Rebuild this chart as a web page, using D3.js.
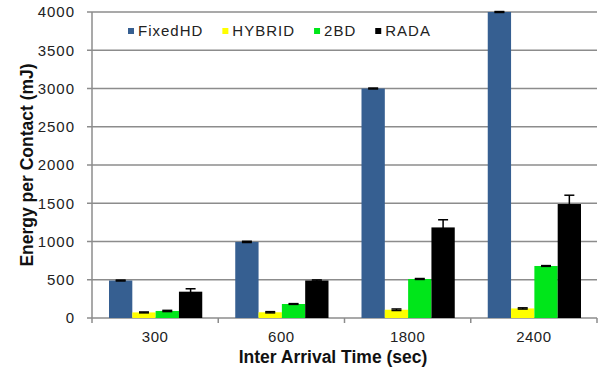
<!DOCTYPE html>
<html>
<head>
<meta charset="utf-8">
<script src="https://cdn.jsdelivr.net/npm/d3@7"></script>
<style>
  body { margin: 0; background: #fff; }
  svg { display: block; font-family: "Liberation Sans", Arial, sans-serif; }
</style>
</head>
<body>
<svg id="chart" width="600" height="371"></svg>
<script>
// data
var categories = ["300", "600", "1800", "2400"];
var seriesNames = ["FixedHD", "HYBRID", "2BD", "RADA"];
var seriesColors = ["#365f91", "#ffff00", "#00e61a", "#000000"];
var fixedHD = [490, 995, 3000, 4000];
var hybrid = [73, 75, 108, 125];
var twoBD = [92, 183, 510, 680];
var rada = [344, 490, 1184, 1490];
var fixedHDErr = [6, 8, 6, 6];
var hybridErr = [6, 8, 10, 8];
var twoBDErr = [8, 5, 6, 5];
var radaErr = [38, 8, 100, 115];
var yTicks = [0, 500, 1000, 1500, 2000, 2500, 3000, 3500, 4000];

var values = [fixedHD, hybrid, twoBD, rada];
var errors = [fixedHDErr, hybridErr, twoBDErr, radaErr];

var svg = d3.select("#chart");
var plotLeft = 92, plotRight = 597, plotTop = 12, plotBottom = 318;

var x0 = d3.scaleBand().domain(categories).range([plotLeft, plotRight]).padding(0);
var x1 = d3.scaleBand().domain(seriesNames).range([17, x0.bandwidth() - 16]).padding(0);
var y = d3.scaleLinear().domain([0, 4000]).range([plotBottom, plotTop]);

// grid lines
svg.append("g").selectAll("line")
    .data(yTicks)
    .enter().append("line")
    .attr("x1", plotLeft - 5).attr("x2", plotRight)
    .attr("y1", function(d) { return y(d); })
    .attr("y2", function(d) { return y(d); })
    .attr("stroke", "#8c8c8c")
    .attr("stroke-width", 1.5);

// y tick labels
svg.append("g").selectAll("text")
    .data(yTicks)
    .enter().append("text")
    .attr("x", 75).attr("y", function(d) { return y(d); })
    .attr("dy", "0.36em")
    .attr("text-anchor", "end")
    .attr("font-size", 15)
    .attr("letter-spacing", 1)
    .attr("fill", "#222")
    .text(function(d) { return d; });

// y axis line
svg.append("line")
    .attr("x1", plotLeft).attr("x2", plotLeft)
    .attr("y1", plotTop).attr("y2", plotBottom + 5)
    .attr("stroke", "#8c8c8c").attr("stroke-width", 1.5);

// x axis ticks at category boundaries
var bounds = categories.map(function(c) { return x0(c); }).concat([plotRight]);
svg.append("g").selectAll("line")
    .data(bounds.slice(1))
    .enter().append("line")
    .attr("x1", function(d) { return d; }).attr("x2", function(d) { return d; })
    .attr("y1", plotBottom).attr("y2", plotBottom + 5)
    .attr("stroke", "#8c8c8c").attr("stroke-width", 1.5);

// bars
var groups = svg.append("g").selectAll("g")
    .data(categories)
    .enter().append("g")
    .attr("transform", function(c) { return "translate(" + x0(c) + ",0)"; });

function rowsFor(c, ci) {
    return seriesNames.map(function(s, si) {
        return { s: s, si: si, v: values[si][ci], e: errors[si][ci] };
    });
}

groups.selectAll("rect")
    .data(rowsFor)
    .enter().append("rect")
    .attr("x", function(d) { return x1(d.s); })
    .attr("y", function(d) { return y(d.v); })
    .attr("width", x1.bandwidth())
    .attr("height", function(d) { return plotBottom - y(d.v); })
    .attr("fill", function(d) { return seriesColors[d.si]; });

// error bars
var err = groups.selectAll("g.err")
    .data(rowsFor)
    .enter().append("g").attr("class", "err");

err.append("line")
    .attr("x1", function(d) { return x1(d.s) + x1.bandwidth() / 2; })
    .attr("x2", function(d) { return x1(d.s) + x1.bandwidth() / 2; })
    .attr("y1", function(d) { return y(d.v - d.e); })
    .attr("y2", function(d) { return y(d.v + d.e); })
    .attr("stroke", "#000").attr("stroke-width", 1.5);

[1, -1].forEach(function(sign) {
    err.append("line")
        .attr("x1", function(d) { return x1(d.s) + x1.bandwidth() / 2 - 5; })
        .attr("x2", function(d) { return x1(d.s) + x1.bandwidth() / 2 + 5; })
        .attr("y1", function(d) { return y(d.v + sign * d.e); })
        .attr("y2", function(d) { return y(d.v + sign * d.e); })
        .attr("stroke", "#000").attr("stroke-width", 1.5);
});

// x tick labels
svg.append("g").selectAll("text")
    .data(categories)
    .enter().append("text")
    .attr("x", function(c) { return x0(c) + x0.bandwidth() / 2; })
    .attr("y", 342)
    .attr("text-anchor", "middle")
    .attr("font-size", 15)
    .attr("letter-spacing", 0.5)
    .attr("fill", "#222")
    .text(function(c) { return c; });

// axis titles
svg.append("text")
    .attr("x", 333).attr("y", 363)
    .attr("text-anchor", "middle")
    .attr("font-size", 17.5).attr("font-weight", "bold")
    .attr("fill", "#111")
    .text("Inter Arrival Time (sec)");

svg.append("text")
    .attr("transform", "translate(33,165) rotate(-90)")
    .attr("text-anchor", "middle")
    .attr("font-size", 17.5).attr("font-weight", "bold")
    .attr("fill", "#111")
    .text("Energy per Contact (mJ)");

// legend
var legend = svg.append("g");
var lx = 128;
seriesNames.forEach(function(s, i) {
    legend.append("rect")
        .attr("x", lx).attr("y", 28)
        .attr("width", 6).attr("height", 6)
        .attr("fill", seriesColors[i]);
    var t = legend.append("text")
        .attr("x", lx + 10).attr("y", 36)
        .attr("font-size", 15)
        .attr("letter-spacing", 1)
        .attr("fill", "#222")
        .text(s);
    lx += 10 + t.node().getComputedTextLength() + 19;
});
</script>
</body>
</html>
